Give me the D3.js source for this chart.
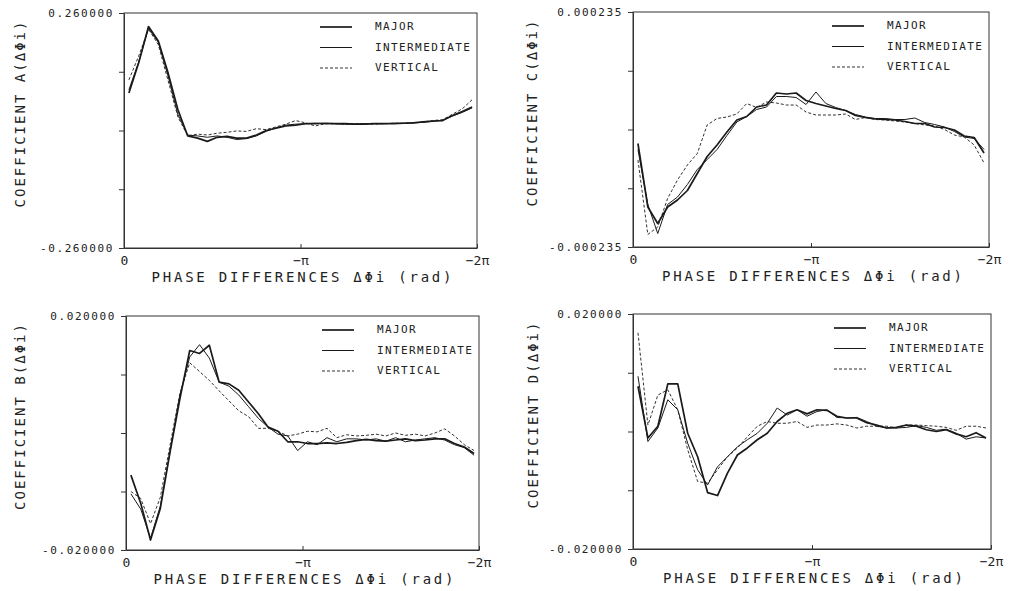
<!DOCTYPE html>
<html>
<head>
<meta charset="utf-8">
<script src="https://cdn.jsdelivr.net/npm/d3@7"></script>
<style>
  body { margin: 0; background: #fff; }
  text { font-family: "DejaVu Sans Mono", monospace; fill: #222; }
</style>
</head>
<body>
<script>
(function() {

  // phase difference sample points (degrees, plotted from 0 to -2pi)
  const phaseDeg = [5, 15, 25, 35, 45, 55, 65, 75, 85, 95, 105, 115, 125, 135, 145, 155, 165, 175,
                    185, 195, 205, 215, 225, 235, 245, 255, 265, 275, 285, 295, 305, 315, 325, 335, 345, 355];

  const seriesNames = ["MAJOR", "INTERMEDIATE", "VERTICAL"];
  const xTickLabels = ["0", "\u2212\u03c0", "\u22122\u03c0"];

  // coefficient A
  const aMajor = [0.083, 0.150, 0.230, 0.198, 0.127, 0.046, -0.012, -0.017, -0.024, -0.015, -0.013, -0.017,
                  -0.017, -0.010, 0.000, 0.005, 0.010, 0.012, 0.015, 0.015, 0.016, 0.015, 0.015, 0.014,
                  0.014, 0.015, 0.015, 0.015, 0.016, 0.017, 0.019, 0.021, 0.022, 0.033, 0.042, 0.052];
  const aInter = [0.090, 0.152, 0.226, 0.195, 0.120, 0.035, -0.010, -0.012, -0.015, -0.012, -0.015, -0.020,
                  -0.018, -0.012, -0.002, 0.006, 0.012, 0.014, 0.015, 0.016, 0.015, 0.015, 0.014, 0.014,
                  0.015, 0.015, 0.015, 0.016, 0.016, 0.017, 0.018, 0.020, 0.023, 0.032, 0.040, 0.050];
  const aVert = [0.112, 0.165, 0.224, 0.190, 0.110, 0.030, -0.012, -0.008, -0.010, -0.006, -0.004, -0.001,
                 -0.002, 0.004, 0.002, 0.008, 0.014, 0.022, 0.017, 0.010, 0.015, 0.015, 0.014, 0.015,
                 0.015, 0.014, 0.015, 0.016, 0.016, 0.017, 0.019, 0.022, 0.024, 0.036, 0.048, 0.068];

  // coefficient C (units of 1e-6)
  const cMajor = [-28, -155, -188, -155, -141, -122, -88, -54, -31, -5, 19, 26, 45, 49, 73, 71, 73, 58,
                  52, 47, 42, 38, 28, 24, 21, 20, 19, 16, 12, 12, 5, 4, -1, -13, -16, -47];
  const cInter = [-40, -150, -208, -150, -135, -110, -80, -60, -40, -12, 15, 26, 40, 45, 66, 66, 64, 50,
                  75, 52, 44, 38, 30, 25, 22, 22, 20, 20, 23, 14, 10, 5, -4, -15, -18, -40];
  const cVert = [-61, -210, -195, -138, -101, -71, -48, 9, 22, 25, 31, 52, 44, 55, 53, 49, 49, 35,
                 29, 29, 29, 31, 20, 24, 20, 19, 17, 15, 12, 9, 7, 0, -11, -15, -31, -67];

  // coefficient B
  const bMajor = [-0.0072, -0.0120, -0.0183, -0.0129, -0.0032, 0.0059, 0.0141, 0.0136, 0.0150, 0.0087, 0.0084, 0.0073,
                  0.0053, 0.0033, 0.0010, 0.0003, -0.0015, -0.0015, -0.0018, -0.0018, -0.0017, -0.0018, -0.0016, -0.0013,
                  -0.0011, -0.0013, -0.0014, -0.0012, -0.0010, -0.0013, -0.0012, -0.0010, -0.0010, -0.0018, -0.0024, -0.0035];
  const bInter = [-0.0104, -0.0130, -0.0180, -0.0125, -0.0030, 0.0065, 0.0130, 0.0151, 0.0128, 0.0087, 0.0080, 0.0065,
                  0.0045, 0.0025, 0.0010, -0.0002, -0.0005, -0.0030, -0.0015, -0.0020, -0.0008, -0.0015, -0.0010, -0.0010,
                  -0.0012, -0.0010, -0.0014, -0.0008, -0.0015, -0.0012, -0.0010, -0.0008, -0.0012, -0.0020, -0.0025, -0.0038];
  const bVert = [-0.0100, -0.0112, -0.0155, -0.0110, -0.0020, 0.0068, 0.0120, 0.0105, 0.0090, 0.0072, 0.0055, 0.0038,
                 0.0028, 0.0008, 0.0008, 0.0003, -0.0005, -0.0002, 0.0003, 0.0002, 0.0008, -0.0008, -0.0003, -0.0005,
                 -0.0004, -0.0002, -0.0005, 0.0000, -0.0004, -0.0002, -0.0005, 0.0000, 0.0007, -0.0005, -0.0020, -0.0030];

  // coefficient D
  const dMajor = [0.0077, -0.0011, 0.0009, 0.0081, 0.0081, -0.0003, -0.0043, -0.0104, -0.0109, -0.0071, -0.0040, -0.0028,
                  -0.0014, -0.0003, 0.0017, 0.0031, 0.0037, 0.0030, 0.0037, 0.0036, 0.0026, 0.0023, 0.0023, 0.0015,
                  0.0011, 0.0006, 0.0007, 0.0011, 0.0009, 0.0003, 0.0000, 0.0003, -0.0004, -0.0009, -0.0002, -0.0011];
  const dInter = [0.0094, -0.0017, 0.0006, 0.0054, 0.0037, -0.0020, -0.0065, -0.0091, -0.0060, -0.0043, -0.0026, -0.0014,
                  -0.0003, 0.0014, 0.0040, 0.0028, 0.0037, 0.0026, 0.0034, 0.0037, 0.0024, 0.0023, 0.0024, 0.0017,
                  0.0009, 0.0006, 0.0006, 0.0007, 0.0010, 0.0007, 0.0002, 0.0004, -0.0003, -0.0013, -0.0009, -0.0011];
  const dVert = [0.0168, 0.0011, 0.0062, 0.0071, 0.0037, -0.0031, -0.0085, -0.0088, -0.0065, -0.0043, -0.0028, -0.0009,
                 0.0009, 0.0017, 0.0014, 0.0014, 0.0017, 0.0007, 0.0011, 0.0011, 0.0013, 0.0011, 0.0006, 0.0009,
                 0.0009, 0.0009, 0.0006, 0.0011, 0.0011, 0.0010, 0.0009, 0.0007, 0.0002, 0.0009, 0.0009, 0.0006];

  const panels = [
    { name: "A", limit: 0.26, labels: ["0.260000", "-0.260000"], series: [aMajor, aInter, aVert] },
    { name: "C", limit: 235, labels: ["0.000235", "-0.000235"], series: [cMajor, cInter, cVert] },
    { name: "B", limit: 0.02, labels: ["0.020000", "-0.020000"], series: [bMajor, bInter, bVert] },
    { name: "D", limit: 0.02, labels: ["0.020000", "-0.020000"], series: [dMajor, dInter, dVert] }
  ];

  // frame boxes for each panel (same order as panels)
  const boxes = [
    { left: 124, right: 477, top: 13, bottom: 248, ylab: 20 },
    { left: 633, right: 989, top: 12, bottom: 247, ylab: 532 },
    { left: 126, right: 479, top: 316, bottom: 550, ylab: 20 },
    { left: 633, right: 991, top: 314, bottom: 549, ylab: 533 }
  ];

  const lineStyles = [
    { width: 1.7, dash: null },
    { width: 1.0, dash: null },
    { width: 0.9, dash: "3,2" }
  ];

  let svgContainer = "";

  window.onload = function() {
    svgContainer = d3.select("body").append("svg")
      .attr("width", 1010)
      .attr("height", 591);

    panels.forEach((p, i) => drawPanel(p, boxes[i]));
  };

  function drawPanel(p, box) {
    let g = svgContainer.append("g");

    let xScale = d3.scaleLinear()
      .domain([0, 360])
      .range([box.left, box.right]);

    let yScale = d3.scaleLinear()
      .domain([-p.limit, p.limit])
      .range([box.bottom, box.top]);

    // frame
    g.append("rect")
      .attr("x", box.left)
      .attr("y", box.top)
      .attr("width", box.right - box.left)
      .attr("height", box.bottom - box.top)
      .attr("fill", "none")
      .attr("stroke", "#333")
      .attr("stroke-width", 1);

    // y axis: five ticks, labels only at the ends
    let yTicks = d3.range(5).map((k) => -p.limit + k * p.limit / 2);
    let yAxis = d3.axisLeft(yScale)
      .tickValues(yTicks)
      .tickSizeInner(5)
      .tickSizeOuter(0)
      .tickPadding(5)
      .tickFormat((d, k) => k === 4 ? p.labels[0] : (k === 0 ? p.labels[1] : ""));

    let ya = g.append("g")
      .attr("transform", "translate(" + box.left + ",0)")
      .call(yAxis);
    ya.select(".domain").attr("stroke", "#333");
    ya.selectAll("line").attr("stroke", "#333");
    ya.selectAll("text")
      .style("font-size", "11px")
      .style("letter-spacing", "1.6px")
      .attr("fill", "#222");

    // x axis: inward ticks at 0, -pi, -2pi
    let xAxis = d3.axisBottom(xScale)
      .tickValues([0, 180, 360])
      .tickSizeInner(-4)
      .tickSizeOuter(0)
      .tickPadding(8)
      .tickFormat((d, k) => xTickLabels[k]);

    let xa = g.append("g")
      .attr("transform", "translate(0," + box.bottom + ")")
      .call(xAxis);
    xa.select(".domain").attr("stroke", "#333");
    xa.selectAll("line").attr("stroke", "#333");
    xa.selectAll("text")
      .style("font-size", "13px")
      .attr("fill", "#222");
    xa.selectAll(".tick").filter((d) => d === 0).select("line").remove();

    // axis titles
    g.append("text")
      .attr("x", (box.left + box.right) / 2 + 1)
      .attr("y", box.bottom + 34)
      .attr("text-anchor", "middle")
      .attr("textLength", 300)
      .attr("lengthAdjust", "spacing")
      .style("font-size", "14px")
      .text("PHASE DIFFERENCES  \u0394\u03a6i  (rad)");

    let midY = (box.top + box.bottom) / 2 - 16;
    g.append("text")
      .attr("transform", "translate(" + (box.ylab + 5) + "," + midY + ")rotate(-90)")
      .attr("text-anchor", "middle")
      .attr("textLength", 186)
      .attr("lengthAdjust", "spacing")
      .style("font-size", "14px")
      .text("COEFFICIENT " + p.name + "(\u0394\u03a6i)");

    // data lines
    let line = d3.line()
      .x((d, k) => xScale(phaseDeg[k]))
      .y((d) => yScale(d));

    p.series.forEach((s, k) => {
      g.append("path")
        .datum(s)
        .attr("d", line)
        .attr("fill", "none")
        .attr("stroke", "#1a1a1a")
        .attr("stroke-width", lineStyles[k].width)
        .attr("stroke-linejoin", "round")
        .style("stroke-dasharray", lineStyles[k].dash);
    });

    makeLegend(g, box);
  }

  function makeLegend(g, box) {
    seriesNames.forEach((name, k) => {
      let y = box.top + 14 + k * 20.5;
      g.append("line")
        .attr("x1", box.right - 157)
        .attr("x2", box.right - 125)
        .attr("y1", y)
        .attr("y2", y)
        .attr("stroke", "#1a1a1a")
        .attr("stroke-width", lineStyles[k].width)
        .style("stroke-dasharray", lineStyles[k].dash);
      g.append("text")
        .attr("x", box.right - 102)
        .attr("y", y)
        .attr("dominant-baseline", "middle")
        .style("font-size", "11px")
        .style("letter-spacing", "1.4px")
        .text(name);
    });
  }

})();
</script>
</body>
</html>
